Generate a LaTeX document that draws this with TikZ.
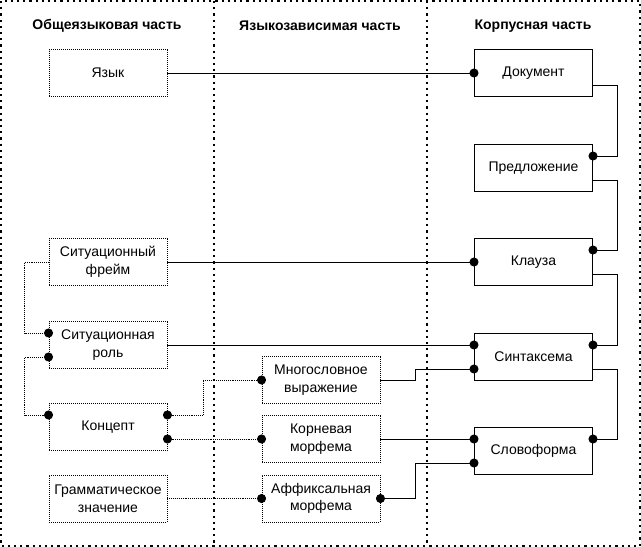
\documentclass[tikz,border=0pt]{standalone}
\usepackage{fontspec}
\setmainfont{Liberation Sans}
\usetikzlibrary{arrows.meta}

\tikzset{
  box/.style={draw, line width=1pt, minimum width=118pt, minimum height=47pt, inner sep=2pt, align=center, font=\fontsize{14}{17.5}\selectfont},
  gbox/.style={box, densely dotted, line width=0.9pt},
  head/.style={font=\fontsize{14}{16}\selectfont\bfseries},
  partline/.style={line width=2.2pt, dash pattern=on 2.2pt off 4pt},
  link/.style={line width=0.9pt},
  glink/.style={line width=0.9pt, densely dotted},
  dot/.style={-{Circle[length=9pt 0, width=9pt 0]}, shorten >=-4.5pt},
  dots/.style={{Circle[length=9pt 0, width=9pt 0]}-{Circle[length=9pt 0, width=9pt 0]}, shorten <=-4.5pt, shorten >=-4.5pt}
}

\begin{document}
\begin{tikzpicture}[x=1pt,y=-1pt]
          \useasboundingbox (0,0) rectangle (641,547);
          \draw[partline] (1,1) rectangle (640,546);
          \draw[partline] (214,1) -- (214,546);
          \draw[partline] (427,1) -- (427,546);
          \node[head] (h1) at (107,26) {Общеязыковая часть};
          \node[head] (h2) at (320,26) {Языкозависимая часть};
          \node[head] (h3) at (533,26) {Корпусная часть};
          \node[gbox] (lang) at (108,73) {Язык};
          \node[gbox] (frame) at (108,262) {Ситуационный\\фрейм};
          \node[gbox] (role) at (108,345) {Ситуационная\\роль};
          \node[gbox] (concept) at (108,427) {Концепт};
          \node[gbox] (gram) at (108,498.5) {Грамматическое\\значение};
          \node[gbox] (mwe) at (321,380) {Многословное\\выражение};
          \node[gbox] (root) at (321,439) {Корневая\\морфема};
          \node[gbox] (affix) at (321,498.5) {Аффиксальная\\морфема};
          \node[box] (doc) at (533.5,73) {Документ};
          \node[box] (sent) at (533.5,168) {Предложение};
          \node[box] (clause) at (533.5,262) {Клауза};
          \node[box] (synt) at (533.5,357) {Синтаксема};
          \node[box] (wform) at (533.5,451) {Словоформа};
          \draw[link,dot] (lang.east) -- (doc.west);
          \draw[link,dot] ([yshift=-12pt]doc.east) -- ++(24,0) |- ([yshift=12pt]sent.east);
          \draw[link,dot] ([yshift=-12pt]sent.east) -- ++(24,0) |- ([yshift=12pt]clause.east);
          \draw[link,dot] ([yshift=-12pt]clause.east) -- ++(24,0) |- ([yshift=12pt]synt.east);
          \draw[link,dot] ([yshift=-12pt]synt.east) -- ++(24,0) |- ([yshift=12pt]wform.east);
          \draw[link,dot] (frame.east) -- (clause.west);
          \draw[link,dot] (role.east) -- ([yshift=12pt]synt.west);
          \draw[link,dot] (mwe.east) -- ++(35,0) |- ([yshift=-12pt]synt.west);
          \draw[link,dot] (root.east) -- ([yshift=12pt]wform.west);
          \draw[link,dots] (affix.east) -- ++(35,0) |- ([yshift=-12pt]wform.west);
          \draw[glink,dot] (frame.west) -- ++(-24,0) |- ([yshift=12pt]role.west);
          \draw[glink,dots] ([yshift=-12pt]role.west) -- ++(-24,0) |- ([yshift=12pt]concept.west);
          \draw[glink,dots] ([yshift=12pt]concept.east) -- ++(36,0) |- (mwe.west);
          \draw[glink,dots] ([yshift=-12pt]concept.east) -- (root.west);
          \draw[glink,dot] (gram.east) -- (affix.west);
        \end{tikzpicture}
\end{document}
